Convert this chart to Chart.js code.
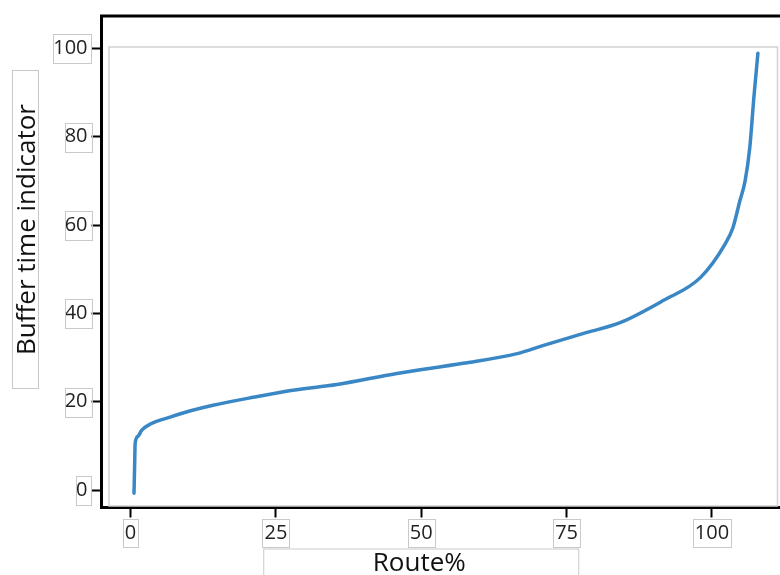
<!DOCTYPE html>
<html>
<head>
<meta charset="utf-8">
<script src="https://cdn.jsdelivr.net/npm/chart.js@4"></script>
<style>
  html, body { margin: 0; padding: 0; background: #fff; }
  #wrap { width: 780px; height: 575px; }
</style>
</head>
<body>
<div id="wrap"><canvas id="chart" width="780" height="575"></canvas></div>
<script>
// values
const routePct = [0.6, 0.7, 0.8, 1.3, 1.9, 3.5, 6.8, 10.5, 14.2, 21.1, 27.9, 35.5, 45.8, 57.2, 66.5, 70.9, 78.5, 84.2, 91.6, 98.0, 102.3, 103.6, 104.8, 105.7, 106.5, 107.2, 107.9]
const bufferTime = [-0.7, 5.0, 10.6, 12.2, 13.5, 15.0, 16.5, 18.0, 19.2, 21.0, 22.6, 23.9, 26.4, 28.7, 30.9, 32.7, 35.7, 37.9, 42.9, 48.1, 55.8, 59.4, 65.5, 70.0, 77.5, 88.8, 98.9]
const xTicks = [0, 25, 50, 75, 100]
const yTicks = [0, 20, 40, 60, 80, 100]
const xTitle = 'Route%'
const yTitle = 'Buffer time indicator'

const FONT = "'Open Sans', 'DejaVu Sans', sans-serif"
const BOX = '#c9c9c9'

// gray boxes round tick labels, inner plot frame, titles and top line
const decor = {
    id: 'decor',
    beforeDatasetsDraw(chart) {
        const { ctx, chartArea: a } = chart
        ctx.save()
        ctx.strokeStyle = '#d2d2d2'
        ctx.lineWidth = 1.5
        ctx.strokeRect(a.left + 7.5, a.top + 31, a.right - a.left - 10, a.bottom - a.top - 32.5)
        ctx.restore()
    },
    afterDraw(chart) {
        const { ctx, chartArea: a, scales } = chart
        ctx.save()
        // top frame line
        ctx.strokeStyle = '#000'
        ctx.lineWidth = 3
        ctx.beginPath()
        ctx.moveTo(a.left - 1.5, a.top)
        ctx.lineTo(a.right, a.top)
        ctx.stroke()

        ctx.strokeStyle = BOX
        ctx.lineWidth = 1
        ctx.font = '20px ' + FONT
        // y tick label boxes
        yTicks.forEach((v) => {
            const y = scales.y.getPixelForValue(v)
            const w = ctx.measureText(String(v)).width
            const r = a.left - 12
            ctx.strokeRect(Math.round(r - w - 2) + 0.5, Math.round(y - 14) + 0.5, Math.round(w + 4), 29)
        })
        // x tick label boxes
        xTicks.forEach((v) => {
            const x = scales.x.getPixelForValue(v)
            const w = ctx.measureText(String(v)).width
            ctx.strokeRect(Math.round(x - w / 2 - 2) + 0.5, Math.round(a.bottom + 11.5) + 0.5, Math.round(w + 4), 28)
        })

        // axis titles
        ctx.fillStyle = '#111'
        ctx.font = '26px ' + FONT
        const mid = scales.x.getPixelForValue(50)
        const tw = ctx.measureText(xTitle).width
        ctx.strokeRect(mid - 157.5, a.bottom + 41.5, 315, 40)
        ctx.textAlign = 'center'
        ctx.textBaseline = 'alphabetic'
        ctx.fillText(xTitle, mid - 2, a.bottom + 63.5)

        const yMid = scales.y.getPixelForValue(59)
        ctx.strokeRect(12.5, yMid - 159, 26, 318)
        ctx.translate(34.5, yMid)
        ctx.rotate(-Math.PI / 2)
        ctx.fillText(yTitle, 0, 0)
        ctx.restore()
    }
}

new Chart(document.getElementById('chart').getContext('2d'), {
    type: 'line',
    data: {
        datasets: [{
            data: routePct.map((x, i) => ({ x: x, y: bufferTime[i] })),
            borderColor: '#3a87c6',
            borderWidth: 3.5,
            borderCapStyle: 'round',
            borderJoinStyle: 'round',
            pointRadius: 0,
            cubicInterpolationMode: 'monotone',
            fill: false
        }]
    },
    options: {
        responsive: false,
        animation: false,
        layout: { padding: { top: 14.5, left: 0, right: 0, bottom: 0 } },
        plugins: { legend: { display: false }, tooltip: { enabled: false } },
        scales: {
            x: {
                type: 'linear',
                min: -4.99,
                max: 111.7,
                afterFit: (s) => { s.height = 67.5 },
                afterBuildTicks: (s) => { s.ticks = xTicks.map((v) => ({ value: v })) },
                grid: { drawOnChartArea: false, tickLength: 10, tickColor: '#000', tickWidth: 2 },
                border: { display: true, color: '#000', width: 3 },
                ticks: { padding: 4, color: '#222', font: { family: FONT, size: 20 }, maxRotation: 0 }
            },
            y: {
                type: 'linear',
                min: -3.95,
                max: 107.34,
                afterFit: (s) => { s.width = 101.5 },
                afterBuildTicks: (s) => { s.ticks = yTicks.map((v) => ({ value: v })) },
                grid: { drawOnChartArea: false, tickLength: 10, tickColor: '#000', tickWidth: 2 },
                border: { display: true, color: '#000', width: 3 },
                ticks: { padding: 4, color: '#222', font: { family: FONT, size: 20 } }
            }
        }
    },
    plugins: [decor]
})
</script>
</body>
</html>
